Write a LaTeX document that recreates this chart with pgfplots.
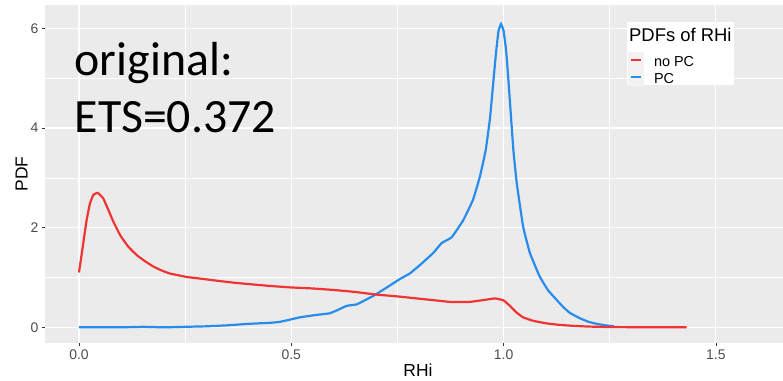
\documentclass[border=0pt]{standalone}
\usepackage{fontspec}
\setmainfont{Liberation Sans}
\newfontfamily\calibri{Carlito}
\usepackage{pgfplots}
\pgfplotsset{compat=1.18}
\definecolor{panelbg}{HTML}{EBEBEB}
\definecolor{nopc}{RGB}{240,52,52}
\definecolor{pc}{RGB}{40,140,235}
\definecolor{ticktext}{HTML}{4D4D4D}
\definecolor{tickmark}{HTML}{333333}
\begin{document}
\begin{tikzpicture}
\begin{axis}[
  name=ax,
  scale only axis, width=738bp, height=338bp,
  xmin=-0.08, xmax=1.658, ymin=-0.315, ymax=6.47,
  axis background/.style={fill=panelbg},
  axis line style={draw=none},
  xtick={0,0.5,1,1.5}, ytick={0,2,4,6},
  minor xtick={0.25,0.75,1.25}, minor ytick={1,3,5},
  grid=both,
  major grid style={white, line width=1.1bp},
  minor grid style={white, line width=0.55bp},
  tick pos=left,
  tick align=outside, major tick length=3bp, minor tick length=0pt,
  tick style={tickmark, line width=0.8bp},
  xticklabels={0.0,0.5,1.0,1.5},
  ticklabel style={font=\fontsize{14}{16}\selectfont, text=ticktext},
  /pgf/number format/assume math mode=true,
  xlabel={RHi}, ylabel={PDF},
  label style={font=\fontsize{17.5}{20}\selectfont},
  x label style={at={(axis description cs:0.5054,-0.0799)}, anchor=center},
  y label style={at={(axis description cs:-0.0318,0.5)}, anchor=center},
  reverse legend,
  legend style={at={(axis description cs:0.7904,0.8624)}, anchor=north west,
    draw=none, fill=none, inner sep=0pt, outer sep=0pt, row sep=0pt,
    nodes={inner sep=0pt, outer sep=0pt},
    font=\fontsize{14.5}{16}\selectfont, cells={anchor=west},
    /tikz/every odd column/.append style={column sep=10.3bp}},
  legend image code/.code={
    \fill[black!5] (0bp,-7.5bp) rectangle (13.2bp,7.5bp);
    \draw[line width=2.2bp] (1.2bp,0bp) -- (12bp,0bp);},
]
\addplot[pc, line width=2.2bp, smooth, tension=0.2] coordinates {
(0.00,0.00) (0.10,0.00) (0.15,0.01) (0.20,0.00) (0.25,0.01) (0.30,0.02)
(0.35,0.04) (0.40,0.07) (0.45,0.09) (0.473,0.11) (0.50,0.16) (0.52,0.20)
(0.56,0.25) (0.59,0.28) (0.61,0.35) (0.63,0.43) (0.654,0.46) (0.675,0.55)
(0.697,0.65) (0.725,0.80) (0.756,0.97) (0.779,1.08) (0.803,1.25) (0.834,1.49)
(0.854,1.69) (0.878,1.81) (0.905,2.15) (0.928,2.56) (0.944,3.02) (0.958,3.56)
(0.968,4.2) (0.975,4.85) (0.982,5.5) (0.988,5.95) (0.994,6.09) (1.000,5.95)
(1.006,5.55) (1.011,5.0) (1.016,4.4) (1.023,3.56) (1.031,2.89) (1.046,2.02)
(1.062,1.49) (1.085,1.02) (1.105,0.74) (1.125,0.55) (1.14,0.41) (1.156,0.29)
(1.18,0.18) (1.20,0.11) (1.219,0.07) (1.24,0.04) (1.26,0.02)
};
\addlegendentry{\rule[-0.7bp]{0pt}{15bp}PC}
\addplot[nopc, line width=2.2bp, smooth, tension=0.2] coordinates {
(0.000,1.10) (0.009,1.62) (0.018,2.15) (0.026,2.49) (0.034,2.66) (0.044,2.70)
(0.057,2.59) (0.069,2.36) (0.081,2.12) (0.097,1.85) (0.116,1.62) (0.136,1.45)
(0.155,1.33) (0.175,1.22) (0.195,1.14) (0.214,1.08) (0.254,1.01) (0.293,0.97)
(0.33,0.93) (0.371,0.89) (0.41,0.86) (0.45,0.83) (0.50,0.80) (0.55,0.78)
(0.599,0.75) (0.65,0.71) (0.697,0.66) (0.75,0.62) (0.795,0.58) (0.84,0.54)
(0.874,0.51) (0.92,0.51) (0.955,0.55) (0.98,0.58) (1.00,0.54) (1.015,0.43)
(1.03,0.30) (1.046,0.20) (1.07,0.13) (1.10,0.08) (1.13,0.05) (1.163,0.03)
(1.20,0.015) (1.26,0.005) (1.35,0.0) (1.431,0.0)
};
\addlegendentry{\rule[-0.7bp]{0pt}{15bp}no PC}
\fill[white] (axis description cs:0.788,0.7633) rectangle (axis description cs:0.9336,0.9506);
\node[anchor=base west, inner sep=0pt, font=\fontsize{18.5}{20}\selectfont]
  at (axis description cs:0.7913,0.8914) {PDFs of RHi};
\node[anchor=base west, inner sep=0pt, font=\calibri\fontsize{48}{56}\selectfont]
  at (axis description cs:0.0401,0.790) {original:};
\node[anchor=base west, inner sep=0pt, font=\calibri\fontsize{48}{56}\selectfont]
  at (axis description cs:0.0401,0.6222) {ETS=0.372};
\end{axis}
\pgfresetboundingbox
\path ([xshift=-45bp,yshift=-38bp]ax.south west) rectangle ([yshift=5bp]ax.north east);
\end{tikzpicture}
\end{document}
